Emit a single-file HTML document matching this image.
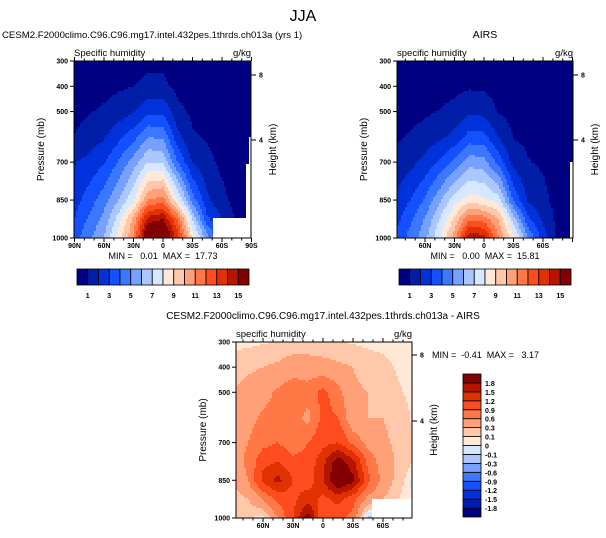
<!DOCTYPE html>
<html><head><meta charset="utf-8">
<style>
html,body{margin:0;padding:0;background:#fff;}
svg{display:block;font-family:"Liberation Sans",Arial,sans-serif;}
.tk{font-size:7px;font-weight:bold;}
.lb{font-size:10px;}
.pre{white-space:pre;}
</style></head>
<body>
<svg id="fig" width="606" height="538" viewBox="0 0 606 538" xmlns="http://www.w3.org/2000/svg">
<rect width="606" height="538" fill="#fff"/>
<text x="303" y="21" text-anchor="middle" font-size="16">JJA</text>
<text x="2" y="38" font-size="9.6">CESM2.F2000climo.C96.C96.mg17.intel.432pes.1thrds.ch013a (yrs 1)</text>
<text x="485" y="38" text-anchor="middle" font-size="10.5">AIRS</text>
<text x="323" y="319" text-anchor="middle" font-size="10">CESM2.F2000climo.C96.C96.mg17.intel.432pes.1thrds.ch013a - AIRS</text>
<g id="p1"></g>
<g id="p2"></g>
<g id="p3"></g>
<g id="cb"></g>
</svg>
<script>
const lats = [90,75,60,45,30,15,0,-15,-30,-45,-60,-75,-90];
const presTop = [300,400,500,600,700,850,925,1000];
const modelValues = [
 [0.2,0.25,0.3,0.4,0.6,0.75,0.75,0.4,0.3,0.2,0.1,0.1,0.05],
 [0.4,0.5,0.7,0.85,1.0,1.3,1.25,0.7,0.55,0.4,0.3,0.2,0.1],
 [0.7,0.95,1.15,1.5,1.9,2.7,2.8,1.3,0.8,0.6,0.4,0.3,0.2],
 [1.05,1.4,1.9,2.7,3.6,5.0,4.8,2.3,1.1,0.9,0.6,0.4,0.3],
 [1.95,2.3,2.9,4.1,5.5,7.0,6.8,4.0,1.9,1.3,0.75,0.5,0.4],
 [2.6,3.5,4.6,6.0,7.8,11.0,11.5,8.0,4.5,2.2,1.3,0.6,0.5],
 [3.0,4.2,5.3,7.5,10.3,14.5,15.0,12.0,7.0,3.2,2.0,0.8,0.6],
 [3.5,4.8,6.0,8.5,11.0,17.0,17.0,13.5,8.8,5.5,3.0,0.9,0.7]
];
const obsValues = [
 [0.1,0.15,0.2,0.3,0.4,0.55,0.5,0.35,0.2,0.15,0.1,0.05,0.05],
 [0.3,0.4,0.5,0.6,0.75,0.88,0.8,0.6,0.4,0.3,0.2,0.1,0.05],
 [0.5,0.65,0.85,1.05,1.3,1.8,1.7,0.9,0.7,0.5,0.4,0.2,0.1],
 [0.85,1.1,1.4,1.8,2.3,3.4,3.3,1.9,0.95,0.8,0.6,0.3,0.2],
 [1.3,1.7,2.3,3.2,4.2,5.6,5.4,3.6,1.6,1.05,0.85,0.5,0.2],
 [2.1,3.0,4.1,5.8,7.6,8.5,8.2,7.5,3.8,1.8,1.3,0.6,0.3],
 [2.6,3.8,5.1,7.0,9.2,11.8,11.5,10.0,6.5,3.2,1.8,0.7,0.3],
 [3.2,4.4,5.6,8.0,10.5,15.0,14.5,11.0,8.5,5.0,2.5,0.8,0.4]
];
const presDiff = [300,400,500,600,700,775,850,925,1000];
const diffValues = [
 [0.05,0.05,0.08,0.12,0.15,0.2,0.15,0.12,0.08,0.06,0.05,0.05,0.05],
 [0.2,0.25,0.3,0.35,0.45,0.4,0.4,0.35,0.3,0.2,0.15,0.08,0.05],
 [0.3,0.4,0.5,0.65,0.8,0.75,1.0,0.7,0.35,0.3,0.25,0.12,0.06],
 [0.35,0.5,0.65,0.7,0.75,0.5,1.0,0.9,0.35,0.3,0.3,0.2,0.08],
 [0.4,0.6,0.8,0.9,0.7,0.9,1.1,1.2,0.8,0.5,0.35,0.25,0.1],
 [0.4,0.7,1.1,1.2,1.0,1.0,1.4,2.0,1.6,0.8,0.45,0.25,0.1],
 [0.3,0.6,1.3,1.6,1.2,1.0,1.5,2.2,1.9,1.0,0.5,0.2,-0.05],
 [0.2,0.3,0.6,1.0,1.1,1.4,1.1,1.3,1.0,0.5,0.3,0.1,0.0],
 [0.15,0.1,0.05,0.6,1.2,2.0,0.9,1.0,0.8,-0.2,-0.2,0.05,0.05]
];
const qLevels = [1,2,3,4,5,6,7,8,9,10,11,12,13,14,15];
const qLabels = ["1","3","5","7","9","11","13","15"];
const dLevels = [-1.8,-1.5,-1.2,-0.9,-0.6,-0.3,-0.1,0,0.1,0.3,0.6,0.9,1.2,1.5,1.8];
const dLabels = ["-1.8","-1.5","-1.2","-0.9","-0.6","-0.3","-0.1","0","0.1","0.3","0.6","0.9","1.2","1.5","1.8"];
const palette = ["#000082","#001ea8","#0032dc","#1450ff","#3c78ff","#78a0ff","#aac8ff","#d6e8ff","#ffe8d6","#ffc8aa","#ffa078","#ff7846","#ff4c1e","#e03200","#b41400","#820000"];
const xTickLats = [90,60,30,0,-30,-60,-90];
const xTickText = ["90N","60N","30N","0","30S","60S","90S"];
const pTicks = [300,400,500,700,850,1000];

const NS="http://www.w3.org/2000/svg";
function mk(parent, tag, attrs){const e=document.createElementNS(NS,tag);for(const k in attrs)e.setAttribute(k,attrs[k]);parent.appendChild(e);return e;}
function interp(grid,pres,lat,p){
  let i=0;while(i<lats.length-2&&lat<lats[i+1])i++;
  let tl=(lats[i]-lat)/(lats[i]-lats[i+1]);tl=Math.max(0,Math.min(1,tl));
  let j=0;while(j<pres.length-2&&p>pres[j+1])j++;
  let tp=(p-pres[j])/(pres[j+1]-pres[j]);tp=Math.max(0,Math.min(1,tp));
  const a=grid[j][i]*(1-tl)+grid[j][i+1]*tl, b=grid[j+1][i]*(1-tl)+grid[j+1][i+1]*tl;
  return a*(1-tp)+b*tp;
}
function colorFor(v,levels){let k=0;while(k<levels.length&&v>=levels[k])k++;return palette[k];}

function panel(gid,cfg){
  const g=document.getElementById(gid);
  const {x0,x1,y0,y1,xZero,degPx,grid,pres,levels}=cfg;
  const latToX=l=>xZero-l*degPx;
  const xToLat=x=>(xZero-x)/degPx;
  const pToY=p=>y0+(p-300)/700*(y1-y0);
  const yToP=y=>300+(y-y0)/(y1-y0)*700;
  const cs=2;
  for(let y=y0;y<y1;y+=cs){
    for(let x=x0;x<x1;x+=cs){
      const v=interp(grid,pres,xToLat(x+cs/2),yToP(y+cs/2));
      const r=mk(g,'rect',{x:x,y:y,width:Math.min(cs,x1-x)+0.3,height:Math.min(cs,y1-y)+0.3,fill:colorFor(v,levels)});
      
      
    }
  }
  (cfg.masks||[]).forEach(m=>{
    const r=mk(g,'rect',{x:m[0],y:m[1],width:m[2],height:m[3],fill:'#fff'});
    
    
  });
  const frame=mk(g,'rect',{x:x0,y:y0,width:x1-x0,height:y1-y0,fill:'none',stroke:'#000','stroke-width':1});
  
  
  pTicks.forEach(p=>{
    const y=pToY(p);
    mk(g,'line',{x1:x0-4,y1:y,x2:x0,y2:y,stroke:'#000','stroke-width':1});
    const t=mk(g,'text',{x:x0-6,y:y+2.5,'text-anchor':'end',class:'tk'});t.textContent=p;
    
    
  });
  for(let l=90;l>=-90;l-=10){
    const x=latToX(l);if(x<x0-0.5||x>x1+0.5)continue;
    const major=(l%30===0);
    mk(g,'line',{x1:x,y1:y1,x2:x,y2:y1+(major?4:2.5),stroke:'#000','stroke-width':1});
    mk(g,'line',{x1:x,y1:y0,x2:x,y2:y0-(major?4:2.5),stroke:'#000','stroke-width':1});
  }
  xTickLats.forEach((l,i)=>{
    if(cfg.skipEnds&&(l===90||l===-90))return;
    const t=mk(g,'text',{x:latToX(l),y:y1+10,'text-anchor':'middle',class:'tk'});t.textContent=xTickText[i];
    
    
  });
  [[8,cfg.h8],[4,cfg.h4]].forEach(h=>{
    mk(g,'line',{x1:x1,y1:h[1],x2:x1+5,y2:h[1],stroke:'#000','stroke-width':1});
    const t=mk(g,'text',{x:x1+8,y:h[1]+2.5,class:'tk'});t.textContent=h[0];
    
    
  });
  const yt=mk(g,'text',{x:0,y:0,'text-anchor':'middle',class:'lb',transform:`translate(${x0-30},${(y0+y1)/2}) rotate(-90)`});yt.textContent='Pressure (mb)';
  
  
  const ht=mk(g,'text',{x:0,y:0,'text-anchor':'middle',class:'lb',transform:`translate(${x1+25},${(y0+y1)/2}) rotate(-90)`});ht.textContent='Height (km)';
  
  
  const ls=mk(g,'text',{x:x0,y:y0-5,'font-size':'9.5'});ls.textContent=cfg.left;
  
  
  const rs=mk(g,'text',{x:x1,y:y0-5,'font-size':'9.5','text-anchor':'end'});rs.textContent='g/kg';
  
  
  const mm=mk(g,'text',{x:cfg.mmX,y:cfg.mmY,'font-size':'9','text-anchor':cfg.mmAnchor,class:'pre'});mm.textContent=cfg.mm;
  
  
}

panel('p1',{x0:74,x1:251,y0:61,y1:238,xZero:163,degPx:177/180,grid:modelValues,pres:presTop,levels:qLevels,
  masks:[[213,218,38,20],[249,137,2,81],[246,164,5,54]],h8:75,h4:140,left:'Specific humidity',
  mm:'MIN =   0.01  MAX =  17.73',mmX:163,mmY:259,mmAnchor:'middle'});
panel('p2',{x0:397,x1:573,y0:61,y1:238,xZero:484,degPx:29.5/30,grid:obsValues,pres:presTop,levels:qLevels,skipEnds:true,
  masks:[[570,162,3,76]],h8:75,h4:140,left:'specific humidity',
  mm:'MIN =   0.00  MAX =  15.81',mmX:485,mmY:259,mmAnchor:'middle'});
panel('p3',{x0:236,x1:412,y0:342,y1:518,xZero:323,degPx:1.0,grid:diffValues,pres:presDiff,levels:dLevels,skipEnds:true,
  masks:[[372,499,40,19]],h8:355,h4:421,left:'specific humidity',
  mm:'MIN =  -0.41  MAX =   3.17',mmX:432,mmY:358,mmAnchor:'start'});

const cb=document.getElementById('cb');
function hbar(x0,y0,w,h){
  const bw=w/16;
  palette.forEach((c,i)=>{
    const r=mk(cb,'rect',{x:x0+i*bw,y:y0,width:bw,height:h,fill:c,stroke:'#000','stroke-width':0.8});
    
    
  });
  qLabels.forEach((s,i)=>{
    const t=mk(cb,'text',{x:x0+bw*(1+2*i),y:y0+h+13,'text-anchor':'middle',class:'tk','font-size':'8'});t.textContent=s;
    
    
  });
}
hbar(77,269,172,16);
hbar(399,269,172,16);
(function(){
  const x0=463,y0=374,w=18,h=143,bh=h/16;
  palette.forEach((c,i)=>{
    const r=mk(cb,'rect',{x:x0,y:y0+h-(i+1)*bh,width:w,height:bh,fill:c,stroke:'#000','stroke-width':0.8});
    
    
  });
  dLabels.forEach((s,i)=>{
    const t=mk(cb,'text',{x:x0+w+4,y:y0+h-(i+1)*bh+3,class:'tk','font-size':'8'});t.textContent=s;
    
    
  });
})();
</script>
</body></html>
